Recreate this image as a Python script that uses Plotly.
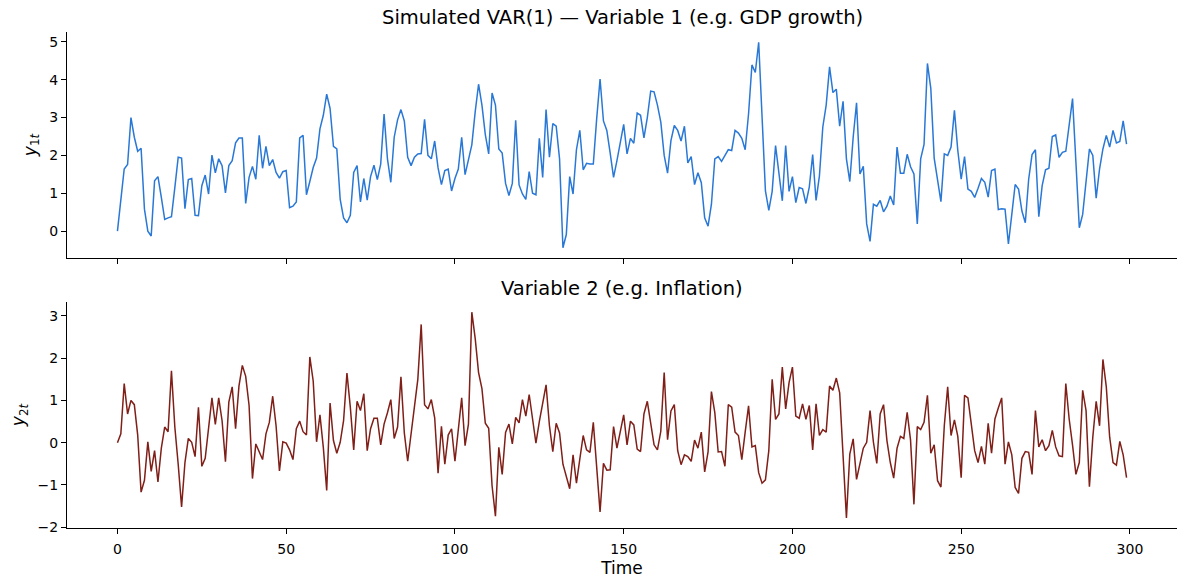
import plotly.graph_objects as go

# Simulated VAR(1) series (t = 0..299)
t = list(range(300))

gdp_growth = [
    0.0, 0.89, 1.64, 1.76, 3.0, 2.48, 2.11, 2.19, 0.58, 0.0,
    -0.13, 1.33, 1.44, 0.89, 0.31, 0.35, 0.38, 1.15, 1.95, 1.93,
    0.59, 1.36, 1.39, 0.42, 0.41, 1.2, 1.48, 0.98, 2.01, 1.54,
    1.91, 1.73, 1.01, 1.73, 1.86, 2.33, 2.46, 2.46, 0.73, 1.42,
    1.71, 1.37, 2.53, 1.66, 2.24, 1.73, 1.89, 1.55, 1.40, 1.57,
    1.60, 0.62, 0.66, 0.77, 2.46, 2.53, 0.96, 1.31, 1.68, 1.93,
    2.70, 3.06, 3.62, 3.24, 2.24, 2.17, 0.84, 0.35, 0.22, 0.42,
    1.55, 1.73, 0.77, 1.39, 0.82, 1.44, 1.74, 1.36, 1.77, 3.09,
    1.91, 1.29, 2.48, 2.94, 3.21, 2.91, 1.95, 1.73, 1.95, 2.04,
    2.05, 2.95, 2.0, 1.91, 2.38, 1.67, 1.23, 1.60, 1.64, 1.06,
    1.39, 1.64, 2.48, 1.49, 1.86, 2.28, 3.15, 3.88, 3.33, 2.55,
    2.04, 3.65, 3.33, 2.17, 2.06, 1.26, 0.94, 1.26, 2.93, 1.22,
    0.98, 0.84, 1.57, 1.0, 0.96, 2.45, 1.42, 3.21, 1.95, 2.84,
    2.77, 1.91, -0.44, -0.09, 1.44, 0.98, 2.15, 2.66, 1.62, 1.79,
    1.77, 1.77, 2.97, 4.02, 2.91, 2.66, 2.06, 1.42, 1.86, 2.39,
    2.82, 2.04, 2.45, 2.32, 3.12, 3.06, 2.46, 3.0, 3.70, 3.68,
    3.33, 2.88, 2.0, 1.53, 2.39, 2.79, 2.66, 2.38, 2.77, 1.80,
    1.97, 1.23, 1.54, 1.28, 0.35, 0.13, 0.71, 1.91, 1.97, 1.84,
    2.0, 2.15, 2.13, 2.66, 2.59, 2.45, 2.15, 3.1, 4.39, 4.19,
    4.99, 3.19, 1.06, 0.55, 1.05, 2.26, 1.55, 0.80, 2.26, 1.05,
    1.44, 0.75, 1.15, 1.12, 0.73, 1.17, 2.02, 0.81, 1.46, 2.75,
    3.33, 4.34, 3.66, 3.75, 2.77, 3.43, 1.91, 1.31, 2.48, 3.39,
    1.51, 1.71, 0.19, -0.27, 0.71, 0.66, 0.81, 0.51, 0.66, 0.93,
    0.69, 2.22, 1.53, 1.53, 2.03, 1.70, 1.51, 0.19, 1.91, 2.29,
    4.43, 3.77, 1.93, 1.31, 0.78, 2.04, 2.0, 2.22, 3.19, 2.13,
    1.37, 1.97, 1.11, 1.05, 0.89, 1.13, 1.39, 1.29, 0.90, 1.60,
    1.64, 0.57, 0.59, 0.58, -0.34, 0.44, 1.23, 1.11, 0.53, 0.22,
    1.37, 2.02, 2.15, 0.38, 1.2, 1.62, 1.66, 2.50, 2.54, 1.95,
    2.08, 2.11, 2.84, 3.50, 1.82, 0.09, 0.44, 1.31, 2.17, 2.0,
    0.87, 1.64, 2.17, 2.53, 2.22, 2.66, 2.33, 2.37, 2.91, 2.30,
]

inflation = [
    0.0, 0.21, 1.40, 0.68, 1.0, 0.90, 0.18, -1.17, -0.89, 0.02,
    -0.68, -0.19, -0.93, -0.13, 0.37, 0.26, 1.70, 0.37, -0.51, -1.52,
    -0.47, 0.10, 0.01, -0.33, 0.84, -0.56, -0.37, 0.37, 1.06, 0.43,
    1.06, 0.52, -0.45, 0.96, 1.32, 0.33, 1.34, 1.83, 1.57, 0.88,
    -0.85, -0.03, -0.21, -0.40, 0.21, 0.48, 1.10, 0.40, -0.67, 0.02,
    -0.01, -0.17, -0.40, 0.33, 0.51, 0.26, 0.18, 2.03, 1.46, 0.02,
    0.66, -0.11, -1.13, 0.94, 0.05, -0.25, 0.01, 0.52, 1.65, 0.84,
    -0.17, 0.98, 0.76, 1.16, -0.19, 0.33, 0.58, 0.58, -0.05, 0.44,
    0.71, 1.02, 0.10, 0.37, 1.56, 0.23, -0.44, 0.17, 0.84, 1.50,
    2.80, 0.90, 0.80, 1.02, 0.59, -0.72, 0.39, -0.51, 0.18, 0.33,
    -0.44, 0.33, 1.06, -0.07, 0.44, 3.09, 2.47, 1.66, 1.28, 0.46,
    0.34, -1.02, -1.74, -0.11, -0.75, 0.24, 0.44, -0.03, 0.60, 0.47,
    1.02, 0.63, 1.14, 0.56, -0.01, 0.50, 0.98, 1.37, 0.40, -0.21,
    0.46, 0.23, -0.51, -0.79, -1.09, -0.29, -0.96, -0.39, 0.17, -0.17,
    -0.23, 0.48, -0.51, -1.64, -0.49, -0.65, -0.64, 0.38, -0.13, 0.29,
    0.66, -0.05, 0.51, 0.42, -0.15, -0.21, 0.68, 0.98, 0.46, -0.05,
    -0.17, 0.27, 1.66, 0.07, 0.75, 0.90, -0.19, -0.52, -0.29, -0.33,
    -0.44, 0.06, -0.13, 0.25, -0.69, -0.22, 1.21, 0.71, -0.22, -0.21,
    -0.56, 0.90, 0.84, 0.25, 0.17, -0.40, 0.25, 0.87, -0.10, -0.07,
    -0.71, -0.96, -0.88, -0.19, 1.50, 0.55, 0.68, 1.79, 0.80, 1.42,
    1.79, 0.63, 0.58, 0.92, 0.55, 0.88, -0.17, 0.92, 0.17, 0.31,
    0.25, 1.34, 1.24, 1.53, 1.18, -0.43, -1.78, -0.27, 0.09, -0.87,
    -0.51, -0.13, 0.01, 0.76, 0.01, -0.49, 0.68, 0.90, 0.05, -0.47,
    -0.84, -0.13, 0.15, 0.10, 0.72, 0.06, -1.46, 0.38, 0.31, 0.48,
    1.12, -0.25, -0.05, -0.90, -1.05, 0.40, 1.32, 0.17, 0.54, 0.15,
    -0.83, 1.12, 1.06, 0.40, -0.19, -0.47, -0.09, -0.51, 0.46, -0.25,
    0.56, 0.82, 1.06, -0.51, 0.02, -0.29, -1.06, -1.20, -0.37, -0.21,
    -0.23, -0.75, 0.76, -0.10, 0.07, -0.19, -0.07, 0.29, -0.10, -0.31,
    -0.33, 1.40, 0.56, -0.06, -0.75, -0.47, 1.24, 0.76, -1.04, 0.13,
    0.98, 0.40, 1.97, 1.32, 0.13, -0.47, -0.53, 0.03, -0.29, -0.83,
]

x_ticks = [0, 50, 100, 150, 200, 250, 300]
y1_ticks = [0, 1, 2, 3, 4, 5]
y2_ticks = [-2, -1, 0, 1, 2, 3]

blue = "#2a78d6"
red = "#7f1f18"
font = "DejaVu Sans"

fig = go.Figure()
fig.add_trace(go.Scatter(x=t, y=gdp_growth, mode="lines",
                         line=dict(color=blue, width=1.5),
                         xaxis="x", yaxis="y", showlegend=False))
fig.add_trace(go.Scatter(x=t, y=inflation, mode="lines",
                         line=dict(color=red, width=1.5),
                         xaxis="x2", yaxis="y2", showlegend=False))

# matplotlib-like axes: left/bottom spines, outward ticks, 5% margins
axis_style = dict(showgrid=False, zeroline=False, showline=True,
                  linecolor="black", linewidth=1, ticks="outside",
                  ticklen=5, tickwidth=1, tickcolor="black",
                  automargin=False,
                  tickfont=dict(family=font, size=14, color="black"))
xrange = [-14.95, 313.95]

fig.update_layout(
    width=1187, height=586,
    margin=dict(l=67, r=10, t=32, b=58),
    plot_bgcolor="white", paper_bgcolor="white",
    font=dict(family=font, color="black"),
    xaxis=dict(axis_style, domain=[0, 1], anchor="y", range=xrange,
               tickvals=x_ticks, showticklabels=False, matches="x2"),
    yaxis=dict(axis_style, domain=[0.5444, 1], anchor="x",
               range=[-0.71, 5.26], tickvals=y1_ticks,
               title=dict(text="<i>y</i><sub>1<i>t</i></sub>",
                          font=dict(family=font, size=17), standoff=8)),
    xaxis2=dict(axis_style, domain=[0, 1], anchor="y2", range=xrange,
                tickvals=x_ticks, ticklabelstandoff=3,
                title=dict(text="Time", font=dict(family=font, size=17),
                           standoff=6)),
    yaxis2=dict(axis_style, domain=[0, 0.4556], anchor="x2",
                range=[-2.02, 3.33], tickvals=y2_ticks,
                title=dict(text="<i>y</i><sub>2<i>t</i></sub>",
                           font=dict(family=font, size=17), standoff=8)),
    annotations=[
        dict(text="Simulated VAR(1) — Variable 1 (e.g. GDP growth)",
             x=0.5, y=1, xref="paper", yref="paper", xanchor="center",
             yanchor="bottom", yshift=1, showarrow=False,
             font=dict(family=font, size=19.5)),
        dict(text="Variable 2 (e.g. Inflation)",
             x=0.5, y=0.4556, xref="paper", yref="paper", xanchor="center",
             yanchor="bottom", yshift=0, showarrow=False,
             font=dict(family=font, size=19.5)),
    ],
)

# drop the default page margin so the figure fills the window exactly
fig.write_html("out.html", config={"displayModeBar": False},
               post_script="document.body.style.margin = '0';")
